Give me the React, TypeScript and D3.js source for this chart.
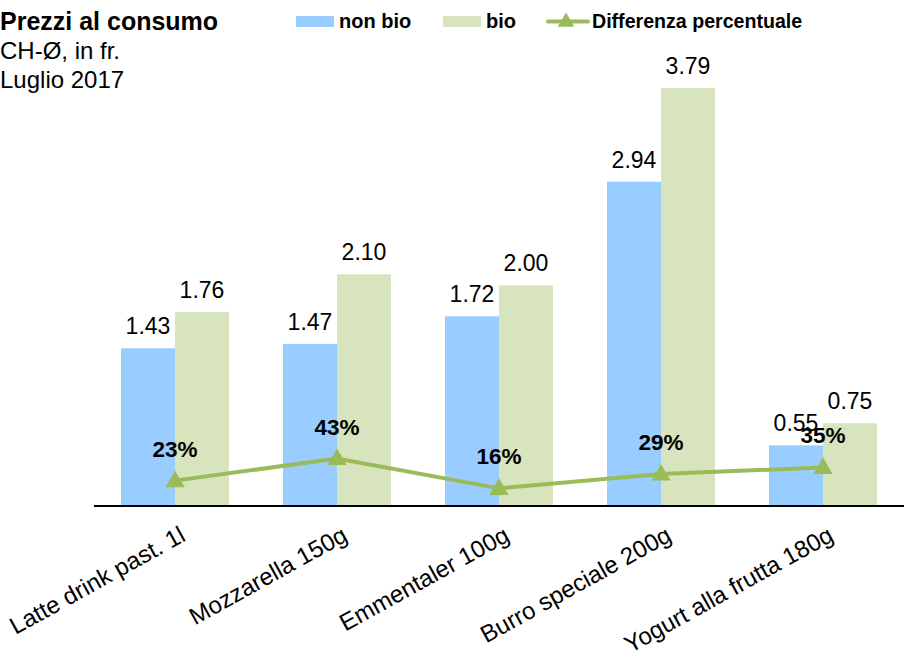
import React from "react";
import * as d3 from "d3";

const categories = [
  "Latte drink past. 1l",
  "Mozzarella 150g",
  "Emmentaler 100g",
  "Burro speciale 200g",
  "Yogurt alla frutta 180g",
];
const nonBio = [1.43, 1.47, 1.72, 2.94, 0.55];
const bio = [1.76, 2.1, 2.0, 3.79, 0.75];
const diffPct = [0.23, 0.43, 0.16, 0.29, 0.35];
const diffLabels = ["23%", "43%", "16%", "29%", "35%"];
const seriesNames = ["non bio", "bio", "Differenza percentuale"];

const W = 904;
const H = 658;
const C_BLUE = "#99CCFF";
const C_GREEN = "#D7E4BD";
const C_LINE = "#9BBB59";
const FONT = "'Liberation Sans', Arial, sans-serif";

export default function App() {
  const x = d3.scaleBand<string>().domain(categories).range([94, 904]).paddingInner(0.3333).paddingOuter(0.1667);
  const bw = x.bandwidth() / 2;
  const y = d3.scaleLinear().domain([0, 3.79]).range([506, 88]);
  const y2 = d3.scaleLinear().domain([0, 3.79]).range([506, 88]);
  const cx = (c: string) => (x(c) as number) + x.bandwidth() / 2;
  const line = d3
    .line<number>()
    .x((_, i) => cx(categories[i]))
    .y((d) => y2(d));
  const tri = d3.symbol().type(d3.symbolTriangle).size(160)();
  const triLegend = d3.symbol().type(d3.symbolTriangle).size(120)();

  return (
    <svg
      width={W}
      height={H}
      style={{ position: "absolute", left: 0, top: 0, background: "#fff" }}
      fontFamily={FONT}
    >
      <rect width={W} height={H} fill="#fff" />
      {/* Title */}
      <text x={0} y={30} fontSize={25} fontWeight="bold" fill="#000">Prezzi al consumo</text>
      <text x={0} y={59} fontSize={24} fill="#000">CH-Ø, in fr.</text>
      <text x={0} y={88} fontSize={24} fill="#000">Luglio 2017</text>

      {/* Legend */}
      <rect x={296} y={16} width={38} height={11} fill={C_BLUE} />
      <text x={339} y={28} fontSize={20} fontWeight="bold">{seriesNames[0]}</text>
      <rect x={443} y={16} width={38} height={11} fill={C_GREEN} />
      <text x={486} y={28} fontSize={20} fontWeight="bold">{seriesNames[1]}</text>
      <line x1={548} x2={588} y1={21.5} y2={21.5} stroke={C_LINE} strokeWidth={4} strokeLinecap="round" />
      <path d={triLegend as string} transform="translate(566,22)" fill={C_LINE} />
      <text x={592} y={28} fontSize={19.6} fontWeight="bold">{seriesNames[2]}</text>

      {/* Bars */}
      {categories.map((c, i) => {
        const x0 = x(c) as number;
        return (
          <g key={c}>
            <rect x={x0} y={y(nonBio[i])} width={bw} height={y(0) - y(nonBio[i])} fill={C_BLUE} />
            <rect x={x0 + bw} y={y(bio[i])} width={bw} height={y(0) - y(bio[i])} fill={C_GREEN} />
            <text x={x0 + bw / 2} y={y(nonBio[i]) - 14} textAnchor="middle" fontSize={23}>{nonBio[i].toFixed(2)}</text>
            <text x={x0 + bw * 1.5} y={y(bio[i]) - 14} textAnchor="middle" fontSize={23}>{bio[i].toFixed(2)}</text>
          </g>
        );
      })}

      {/* Axis */}
      <line x1={94} x2={904} y1={y(0)} y2={y(0)} stroke="#000" strokeWidth={2} />
      {categories.map((c) => (
        <text
          key={c}
          transform={`translate(${cx(c) + 12},${540}) rotate(-29)`}
          textAnchor="end"
          fontSize={24}
        >
          {c}
        </text>
      ))}

      {/* Line */}
      <path d={line(diffPct) as string} fill="none" stroke={C_LINE} strokeWidth={4} />
      {diffPct.map((d, i) => (
        <path key={i} d={tri as string} transform={`translate(${cx(categories[i])},${y2(d) + 1})`} fill={C_LINE} />
      ))}
      {diffPct.map((d, i) => (
        <text key={i} x={cx(categories[i])} y={y2(d) - 24} textAnchor="middle" fontSize={22.5} fontWeight="bold">
          {diffLabels[i]}
        </text>
      ))}
    </svg>
  );
}
